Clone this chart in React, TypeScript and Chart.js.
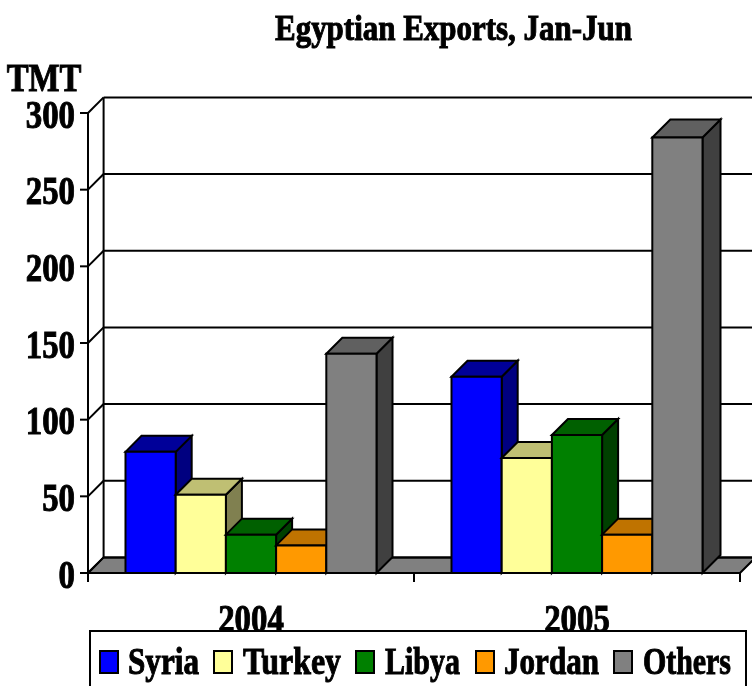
import React, { useEffect, useRef } from "react";
import { Chart, registerables } from "chart.js";

Chart.register(...registerables);

const categories = ["2004", "2005"];
const syria = [79, 128];
const turkey = [51, 75];
const libya = [25, 90];
const jordan = [18, 25];
const others = [143, 284];
const seriesNames = ["Syria", "Turkey", "Libya", "Jordan", "Others"];
const yTicks = [0, 50, 100, 150, 200, 250, 300];
const titleText = "Egyptian Exports, Jan-Jun";
const unitText = "TMT";

const frontColors = ["#0000FF", "#FFFF99", "#008000", "#FF9900", "#808080"];
const topColors = ["#000099", "#BFBF73", "#006000", "#BF7300", "#606060"];
const sideColors = ["#000080", "#808050", "#004000", "#804C00", "#404040"];

const WALL = 15.6;
const FONT = "bold 40px 'Liberation Serif'";
const SQUEEZE = 0.82;

function squeezed(ctx: CanvasRenderingContext2D, text: string, x: number, y: number, align: CanvasTextAlign, font = FONT, sx = SQUEEZE, targetWidth = 0) {
  ctx.save();
  ctx.font = font;
  ctx.fillStyle = "#000";
  ctx.strokeStyle = "#000";
  ctx.lineWidth = 1;
  ctx.textAlign = align;
  ctx.textBaseline = "alphabetic";
  const k = targetWidth ? targetWidth / ctx.measureText(text).width : sx;
  ctx.translate(x, y);
  ctx.scale(k, 1);
  ctx.fillText(text, 0, 0);
  ctx.strokeText(text, 0, 0);
  ctx.restore();
}

function poly(ctx: CanvasRenderingContext2D, pts: number[][], fill: string | null, stroke = true) {
  ctx.beginPath();
  pts.forEach((p, i) => (i ? ctx.lineTo(p[0], p[1]) : ctx.moveTo(p[0], p[1])));
  ctx.closePath();
  if (fill) {
    ctx.fillStyle = fill;
    ctx.fill();
  }
  if (stroke) ctx.stroke();
}

function line(ctx: CanvasRenderingContext2D, x1: number, y1: number, x2: number, y2: number) {
  ctx.beginPath();
  ctx.moveTo(x1, y1);
  ctx.lineTo(x2, y2);
  ctx.stroke();
}

const box3d = {
  id: "box3d",
  beforeDatasetsDraw(chart: any) {
    const { ctx, scales } = chart;
    const { x, y } = scales;
    const x0 = x.left;
    const x1 = x.right;
    const base = y.getPixelForValue(0);
    const top = y.getPixelForValue(300);
    ctx.save();
    ctx.strokeStyle = "#000";
    ctx.lineWidth = 2;
    ctx.lineJoin = "miter";
    // floor
    poly(ctx, [[x0, base], [x0 + WALL, base - WALL], [x1 + WALL, base - WALL], [x1, base]], "#808080");
    // walls, gridlines, y ticks
    y.ticks.forEach((t: any) => {
      const py = y.getPixelForValue(t.value);
      line(ctx, x0 - 8, py, x0, py);
      line(ctx, x0, py, x0 + WALL, py - WALL);
      line(ctx, x0 + WALL, py - WALL, x1 + WALL, py - WALL);
      squeezed(ctx, String(t.value), 75, py + 14.5, "right");
    });
    line(ctx, x0, top, x0, base);
    line(ctx, x0 + WALL, top - WALL, x0 + WALL, base - WALL);
    // x axis ticks
    line(ctx, x0, base, x1, base);
    const n = categories.length;
    for (let i = 0; i <= n; i++) {
      const px = x0 + ((x1 - x0) * i) / n;
      line(ctx, px, base, px, base + 9);
    }
    ctx.restore();
  },
  beforeDatasetDraw() {
    return false;
  },
  afterDatasetsDraw(chart: any) {
    const { ctx, scales } = chart;
    const { x } = scales;
    ctx.save();
    ctx.strokeStyle = "#000";
    ctx.lineWidth = 2;
    ctx.lineJoin = "miter";
    categories.forEach((_, c) => {
      chart.data.datasets.forEach((_d: any, s: number) => {
        const el = chart.getDatasetMeta(s).data[c];
        const half = el.width / 2;
        const l = el.x - half;
        const r = el.x + half;
        const t = el.y;
        const b = el.base;
        const d = c === 1 && s === 4 ? 18 : 16;
        poly(ctx, [[r, b], [r + d, b - d], [r + d, t - d], [r, t]], sideColors[s]);
        poly(ctx, [[l, t], [l + d, t - d], [r + d, t - d], [r, t]], topColors[s]);
        el.draw(ctx);
        poly(ctx, [[l, t], [r, t], [r, b], [l, b]], null);
      });
    });
    ctx.restore();
    // title and labels
    squeezed(ctx, titleText, 453.5, 40, "center", "bold 36px 'Liberation Serif'", 0.86);
    squeezed(ctx, unitText, 44, 91, "center");
    categories.forEach((cat, i) => {
      squeezed(ctx, cat, x.getPixelForTick(i), 632, "center");
    });
    // legend
    ctx.save();
    ctx.strokeStyle = "#000";
    ctx.lineWidth = 2;
    ctx.fillStyle = "#fff";
    ctx.fillRect(90, 631, 656, 70);
    ctx.strokeRect(90, 631, 656, 70);
    const swatchX = [100, 214, 356, 476, 614];
    const textX = [128, 243, 385, 504, 643];
    const textW = [71, 98, 75, 95, 88];
    seriesNames.forEach((name, i) => {
      ctx.fillStyle = frontColors[i];
      ctx.fillRect(swatchX[i], 651, 18, 22);
      ctx.strokeRect(swatchX[i], 651, 18, 22);
      squeezed(ctx, name, textX[i], 674, "left", "bold 38px 'Liberation Serif'", SQUEEZE, textW[i]);
    });
    ctx.restore();
  },
};

export default function App() {
  const ref = useRef<HTMLCanvasElement>(null);
  useEffect(() => {
    document.body.style.margin = "0";
    const series = [syria, turkey, libya, jordan, others];
    const chart = new Chart(ref.current!, {
      type: "bar",
      data: {
        labels: categories,
        datasets: series.map((data, i) => ({
          label: seriesNames[i],
          data,
          backgroundColor: frontColors[i],
          borderWidth: 0,
          categoryPercentage: 0.77,
          barPercentage: 1,
        })),
      },
      options: {
        responsive: false,
        animation: false,
        layout: { padding: { left: 80, right: 12, top: 113, bottom: 105 } },
        plugins: { legend: { display: false }, title: { display: false }, tooltip: { enabled: false } },
        scales: {
          x: { grid: { display: false }, border: { display: false }, ticks: { display: false } },
          y: {
            min: yTicks[0],
            max: yTicks[yTicks.length - 1],
            grid: { display: false },
            border: { display: false },
            ticks: { display: false, stepSize: yTicks[1] - yTicks[0] },
          },
        },
      },
      plugins: [box3d],
    } as any);
    return () => chart.destroy();
  }, []);
  return <canvas ref={ref} width={752} height={686} style={{ display: "block", width: 752, height: 686 }} />;
}
